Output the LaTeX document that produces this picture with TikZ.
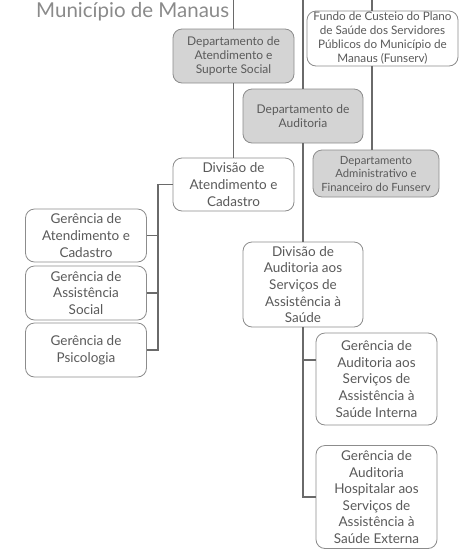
\documentclass[tikz,border=0pt]{standalone}
\usepackage{fontspec}
\setmainfont{Lato}
\definecolor{boxline}{HTML}{8C8C8C}
\definecolor{boxfill}{HTML}{D4D4D4}
\definecolor{txt}{HTML}{5A5A5A}
\definecolor{conn}{HTML}{6A6A6A}
\definecolor{ttl}{HTML}{8A8A8A}
\begin{document}
\begin{tikzpicture}[x=1pt,y=-1pt,
  box/.style={draw=boxline, fill=white, rounded corners=9pt, line width=0.8pt, align=center,
    font=\fontsize{13.5}{16.6}\selectfont, text=txt, inner sep=0pt},
  gbox/.style={box, fill=boxfill, font=\fontsize{12}{14}\selectfont},
  conline/.style={draw=conn, line width=1.8pt}]
\useasboundingbox (0,0) rectangle (459,550);
\node[anchor=base west, font=\fontsize{20.5}{20.5}\selectfont, text=ttl, inner sep=0pt] (title) at (36,17) {Município de Manaus};

\node[gbox, minimum width=121pt, minimum height=54pt] (dAt) at (233.5,56) {Departamento de\\Atendimento e\\Suporte Social};
\node[box, font=\fontsize{11.7}{14}\selectfont, minimum width=151pt, minimum height=55pt] (fundo) at (382.5,38.5) {Fundo de Custeio do Plano\\de Saúde dos Servidores\\Públicos do Município de\\Manaus (Funserv)};
\node[gbox, minimum width=120pt, minimum height=54pt] (dAud) at (303,116) {Departamento de\\Auditoria};
\node[gbox, font=\fontsize{11.3}{13.5}\selectfont, minimum width=126pt, minimum height=47pt] (dAdm) at (376,173.5) {Departamento\\Administrativo e\\Financeiro do Funserv};
\node[box, minimum width=121pt, minimum height=53pt] (divAt) at (233.5,184.5) {Divisão de\\Atendimento e\\Cadastro};
\node[box, minimum width=121pt, minimum height=53pt] (g1) at (86,235.5) {Gerência de\\Atendimento e\\Cadastro};
\node[box, minimum width=121pt, minimum height=54pt] (g2) at (86,293) {Gerência de\\Assistência\\Social};
\node[box, minimum width=121pt, minimum height=54pt] (g3) at (86,350) {Gerência de\\Psicologia};
\node[box, minimum width=120pt, minimum height=85pt] (divAud) at (303,284.5) {Divisão de\\Auditoria aos\\Serviços de\\Assistência à\\Saúde};
\node[box, minimum width=121pt, minimum height=92pt] (gInt) at (376.5,379) {Gerência de\\Auditoria aos\\Serviços de\\Assistência à\\Saúde Interna};
\node[box, minimum width=121pt, minimum height=103pt] (gExt) at (376.5,497) {Gerência de\\Auditoria\\Hospitalar aos\\Serviços de\\Assistência à\\Saúde Externa};

\coordinate (t1) at (233.5,0);
\coordinate (t2) at (303,0);
\coordinate (t3) at (372,0);
\coordinate (b1) at (158,0);
\coordinate (b2) at (303,0);

\draw[conline] (t1) -- (dAt.north);
\draw[conline] (dAt.south) -- (divAt.north);
\draw[conline] (t2) -- (dAud.north);
\draw[conline] (dAud.south) -- (divAud.north);
\draw[conline] (t3) -- (t3 |- fundo.north);
\draw[conline] (t3 |- fundo.south) -- (t3 |- dAdm.north);

\draw[conline] (divAt.west) -- (divAt.west -| b1) -- (b1 |- g3.east) -- (g3.east);
\draw[conline] (g1.east) -- (g1.east -| b1);
\draw[conline] (g2.east) -- (g2.east -| b1);

\draw[conline] (divAud.south) -- (divAud.south |- gExt.west) -- (gExt.west);
\draw[conline] ([yshift=19pt]gInt.west -| b2) -- ([yshift=19pt]gInt.west);
\end{tikzpicture}
\end{document}
